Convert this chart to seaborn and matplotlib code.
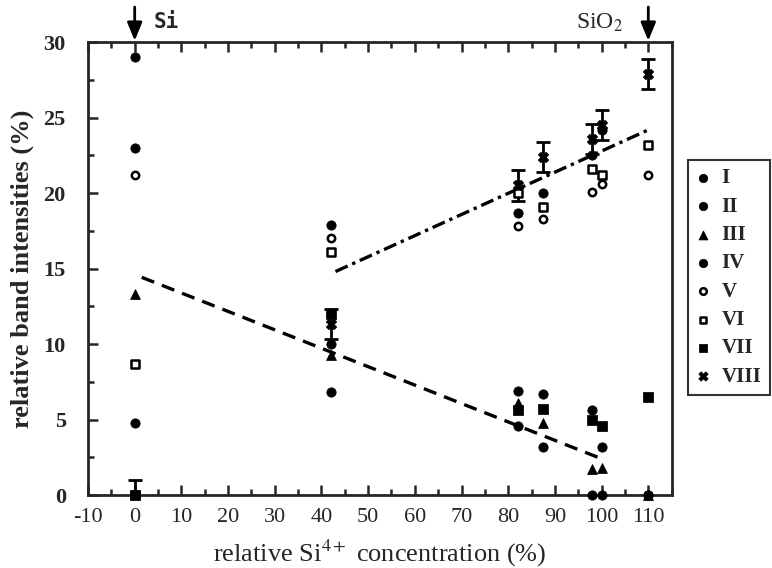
import numpy as np
import pandas as pd
import matplotlib
matplotlib.use("Agg")
import matplotlib.pyplot as plt
from matplotlib.ticker import MultipleLocator
import seaborn as sns

# relative Si4+ concentration (%) of the samples
conc = [0, 42, 82, 87.5, 98, 100, 110]

# relative band intensities (%)
band_I = [29.0, 10.0, 4.6, 3.2, 0.0, 0.0, 0.0]
band_II = [23.0, 17.9, 18.7, 20.0, 22.5, 24.2, np.nan]
band_III = [13.3, 9.3, 6.1, 4.8, 1.7, 1.8, 0.0]
band_IV = [4.8, 6.8, 6.9, 6.7, 5.6, 3.2, 0.0]
band_V = [21.2, 17.0, 17.8, 18.3, 20.1, 20.6, 21.2]
band_VI = [8.7, 16.1, 20.0, 19.1, 21.6, 21.2, 23.2]
band_VII = [0.0, 12.0, 5.6, 5.7, 5.0, 4.6, 6.5]
band_VIII = [0.0, 11.3, 20.5, 22.4, 23.6, 24.5, 27.9]
err_VIII = [1.0, 1.0, 1.0, 1.0, 1.0, 1.0, 1.0]

band_names = ["I", "II", "III", "IV", "V", "VI", "VII", "VIII"]

# linear trends drawn in the figure (slope, intercept, x range)
fit_down = (-0.122, 14.6, 1.5, 100.0)
fit_up = (0.140, 8.78, 43.0, 110.0)

df = pd.DataFrame({
    "conc": conc * 8,
    "value": band_I + band_II + band_III + band_IV + band_V + band_VI + band_VII + band_VIII,
    "band": [b for b in band_names for _ in conc],
})

sns.set_style("ticks")
plt.rcParams["font.family"] = ["Liberation Serif", "DejaVu Serif"]
plt.rcParams["mathtext.fontset"] = "stix"
plt.rcParams["axes.unicode_minus"] = False

fig = plt.figure(figsize=(7.72, 5.68), dpi=100)
ax = fig.add_axes([0.114, 0.1285, 0.756, 0.7975])

# marker look per band
looks = {
    "I": dict(marker="o", s=45, color="black", edgecolor="black"),
    "II": dict(marker="o", s=45, color="black", edgecolor="black"),
    "III": dict(marker="^", s=50, color="black", edgecolor="black"),
    "IV": dict(marker="o", s=45, color="black", edgecolor="black"),
    "V": dict(marker="o", s=28, color="white", edgecolor="black", linewidth=1.8),
    "VI": dict(marker="s", s=28, color="white", edgecolor="black", linewidth=1.8),
    "VII": dict(marker="s", s=45, color="black", edgecolor="black"),
    "VIII": dict(marker="X", s=55, color="black", edgecolor="black"),
}

# error bars on band VIII
ax.errorbar(conc, band_VIII, yerr=err_VIII, fmt="none", ecolor="black",
            elinewidth=2, capsize=5, capthick=2, zorder=2)

for b in band_names:
    sub = df[df["band"] == b]
    sns.scatterplot(data=sub, x="conc", y="value", ax=ax, label=b, zorder=3,
                    clip_on=False, **looks[b])

# trend lines
for (m, c, x0, x1), ls in [(fit_down, (0, (4, 2.5))), (fit_up, (0, (4, 1.5, 1, 1.5)))]:
    xx = np.array([x0, x1])
    ax.plot(xx, m * xx + c, color="black", lw=2.4, linestyle=ls, zorder=2)

ax.set_xlim(-10, 115)
ax.set_ylim(0, 30)
ax.xaxis.set_major_locator(MultipleLocator(10))
ax.xaxis.set_minor_locator(MultipleLocator(5))
ax.yaxis.set_major_locator(MultipleLocator(5))
ax.yaxis.set_minor_locator(MultipleLocator(2.5))
ax.tick_params(which="both", direction="in", top=True, right=False, width=1.8)
ax.tick_params(which="major", length=7)
ax.tick_params(which="minor", length=4)
ax.tick_params(axis="x", which="major", labelsize=16, pad=9)
ax.tick_params(axis="y", which="major", labelsize=16, pad=16)
for lab in ax.get_yticklabels():
    lab.set_fontweight("bold")
for sp in ax.spines.values():
    sp.set_linewidth(2)
    sp.set_visible(True)

ax.set_xlabel("relative Si$^{4+}$ concentration (%)", fontsize=19, labelpad=8)
ax.set_ylabel("relative band intensities (%)", fontsize=19, fontweight="bold", labelpad=7)

# arrows marking pure Si and SiO2
for xa in [0, 110]:
    ax.annotate("", xy=(xa, 29.9), xytext=(xa, 32.5), xycoords="data",
                arrowprops=dict(arrowstyle="-|>,head_width=0.45,head_length=1.1",
                                color="black", lw=2), annotation_clip=False)
ax.text(4.0, 31.3, "Si", fontsize=15, fontweight="bold", family="DejaVu Sans Mono",
        va="center", ha="left")
ax.text(99.5, 31.3, "SiO$_2$", fontsize=17, va="center", ha="center")

leg = ax.legend(loc="upper left", bbox_to_anchor=(688 / 772, 1 - 160 / 568),
                bbox_transform=fig.transFigure, frameon=True,
                fancybox=False, edgecolor="black", labelspacing=0.4,
                handlelength=0.6, handletextpad=0.6, borderpad=0.4,
                borderaxespad=0, markerscale=0.9,
                prop={"family": "Liberation Serif", "weight": "bold", "size": 15})
leg.get_frame().set_linewidth(1.5)

fig.savefig("out.png", dpi=100)
